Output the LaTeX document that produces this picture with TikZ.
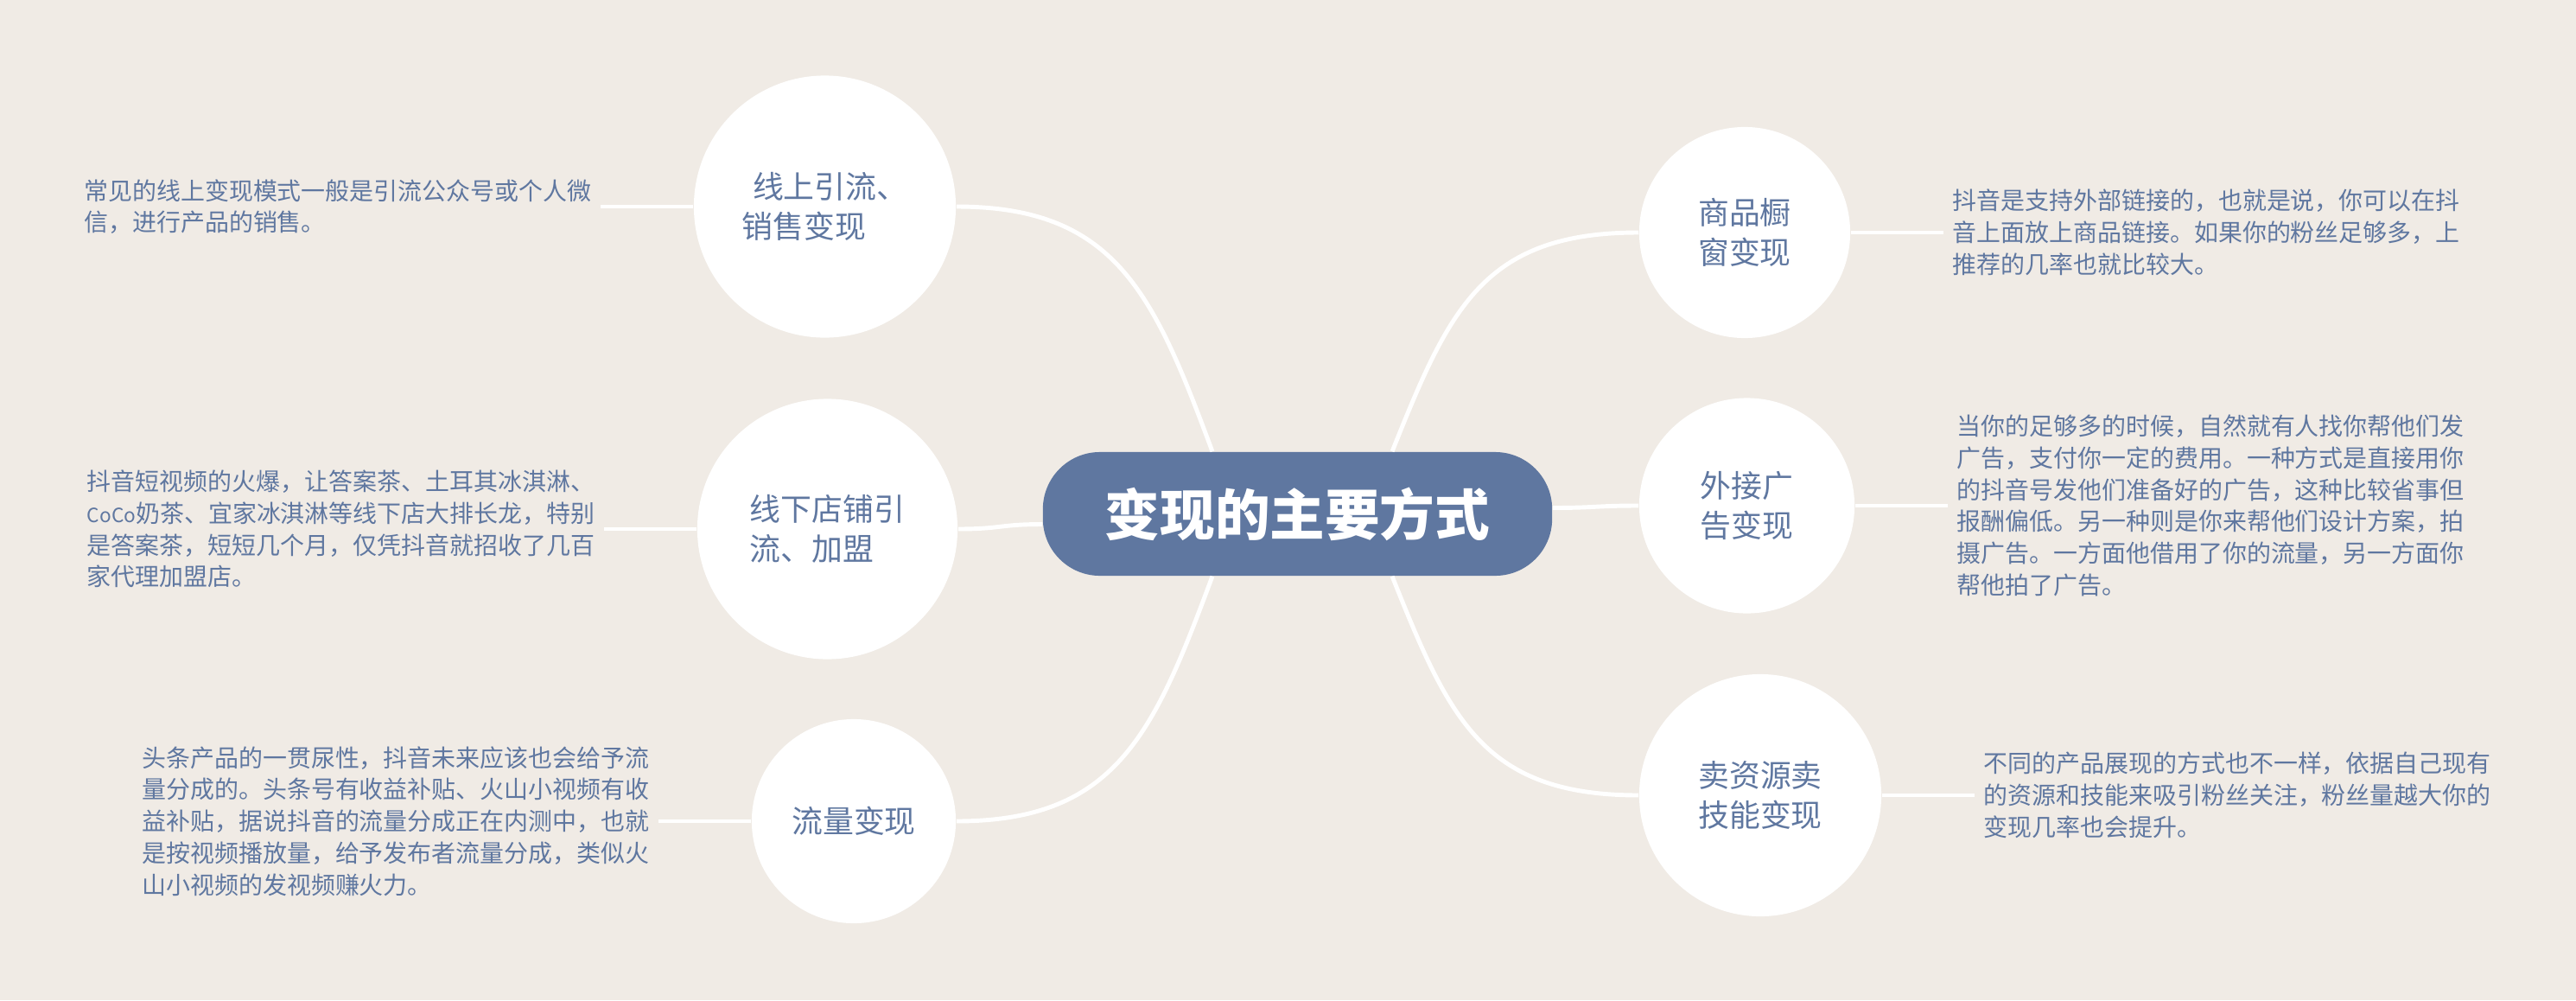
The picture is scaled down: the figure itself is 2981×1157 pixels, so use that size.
\documentclass[tikz,border=0pt]{standalone}
\usepackage{fontspec}
\setmainfont{Noto Sans CJK SC}
\usetikzlibrary{positioning}
\definecolor{paper}{RGB}{240,235,229}
\definecolor{slate}{RGB}{95,119,160}

\tikzset{
  topic/.style={rectangle, rounded corners=0.66cm, fill=slate, text=white,
    minimum width=5.89cm, minimum height=1.43cm,
    font=\fontsize{18.1pt}{20pt}\selectfont\bfseries},
  way/.style={circle, fill=white, text=slate, inner sep=0pt, align=left,
    font=\fontsize{10.2pt}{12.95pt}\selectfont},
  note/.style={text=slate, align=left, inner xsep=0.1cm, inner ysep=0pt,
    font=\fontsize{7.95pt}{10.44pt}\selectfont},
  branch/.style={draw=white, line width=1.4pt},
}

\begin{document}
\begin{tikzpicture}[x=0.01cm, y=-0.01cm, node distance=1.07cm]
\fill[paper] (0,0) rectangle (2981,1157);
\node[topic] (main) at (1501.5,594.5) {变现的主要方式};
% left
\node[way, minimum size=3.03cm] (c1) at (954.5,239) {\hspace{0.35em}线上引流、\\销售变现};
\node[way, minimum size=3.01cm] (c2) at (957.5,612) {线下店铺引\\流、加盟};
\node[way, minimum size=2.36cm] (c3) at (988,950) {流量变现};
% right
\node[way, minimum size=2.44cm] (c4) at (2019,269) {商品橱\\窗变现};
\node[way, minimum size=2.49cm] (c5) at (2021.5,585) {外接广\\告变现};
\node[way, minimum size=2.80cm] (c6) at (2037,920) {卖资源卖\\技能变现};

\node[note, left=of c1] (t1) {常见的线上变现模式一般是引流公众号或个人微\\信，进行产品的销售。};
\node[note, left=of c2] (t2) {抖音短视频的火爆，让答案茶、土耳其冰淇淋、\\\scalebox{0.81}{CoCo}奶茶、宜家冰淇淋等线下店大排长龙，特别\\是答案茶，短短几个月，仅凭抖音就招收了几百\\家代理加盟店。};
\node[note, left=of c3] (t3) {头条产品的一贯尿性，抖音未来应该也会给予流\\量分成的。头条号有收益补贴、火山小视频有收\\益补贴，据说抖音的流量分成正在内测中，也就\\是按视频播放量，给予发布者流量分成，类似火\\山小视频的发视频赚火力。};
\node[note, right=of c4] (t4) {抖音是支持外部链接的，也就是说，你可以在抖\\音上面放上商品链接。如果你的粉丝足够多，上\\推荐的几率也就比较大。};
\node[note, right=of c5] (t5) {当你的足够多的时候，自然就有人找你帮他们发\\广告，支付你一定的费用。一种方式是直接用你\\的抖音号发他们准备好的广告，这种比较省事但\\报酬偏低。另一种则是你来帮他们设计方案，拍\\摄广告。一方面他借用了你的流量，另一方面你\\帮他拍了广告。};
\node[note, right=of c6] (t6) {不同的产品展现的方式也不一样，依据自己现有\\的资源和技能来吸引粉丝关注，粉丝量越大你的\\变现几率也会提升。};

\draw[branch] (c1.east) .. controls +(184,0) and +(-68,-183) .. ([xshift=-0.985cm]main.north);
\draw[branch] (c3.east) .. controls +(184,0) and +(-68,183) .. ([xshift=-0.985cm]main.south);
\draw[branch] (c4.west) .. controls +(-180,0) and +(66,-165) .. ([xshift=1.095cm]main.north);
\draw[branch] (c6.west) .. controls +(-180,0) and +(66,165) .. ([xshift=1.095cm]main.south);
\draw[branch] (c2.east) .. controls +(50,0) and +(-50,0) .. ([yshift=-0.12cm]main.west);
\draw[branch] ([yshift=0.07cm]main.east) .. controls +(50,0) and +(-50,0) .. (c5.west);
\foreach \i in {1,...,6}
  \draw[branch] (t\i) -- (c\i);
\end{tikzpicture}
\end{document}
